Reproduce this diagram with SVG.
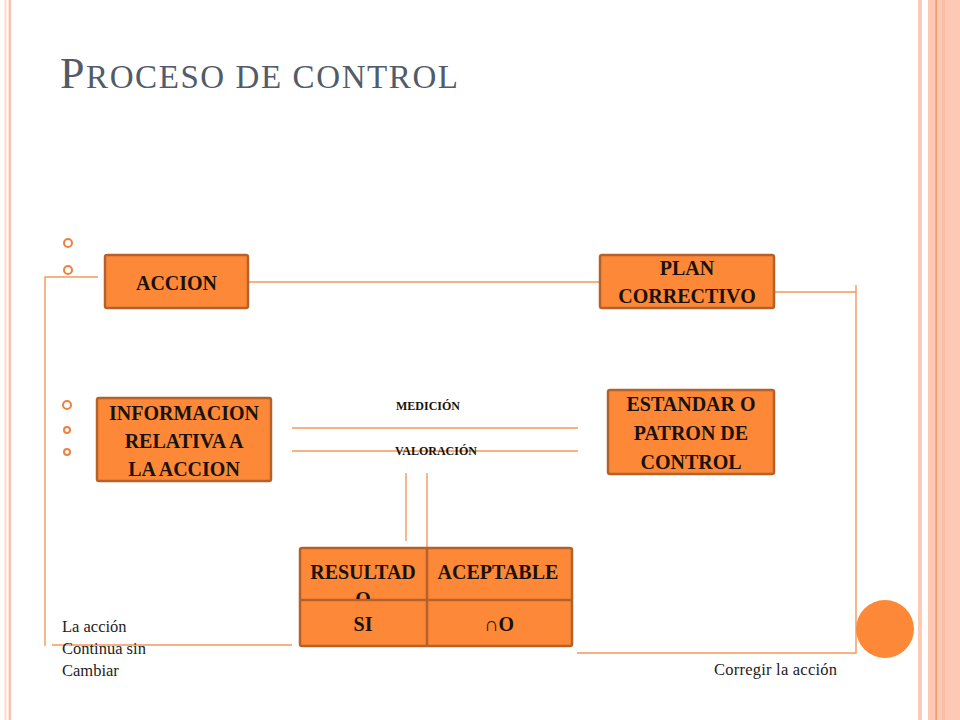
<svg xmlns="http://www.w3.org/2000/svg" width="960" height="720" viewBox="0 0 960 720">
<defs>
<style>
.box{fill:#fd8838;stroke:#b5622a;stroke-width:2.5}
.bt{font-family:"Liberation Serif","DejaVu Serif",serif;font-weight:bold;font-size:20px;fill:#1a1208;text-anchor:middle}
.sm{font-family:"Liberation Serif","DejaVu Serif",serif;font-weight:bold;font-size:12px;fill:#1a1208;text-anchor:middle}
.ln{stroke:#f3985c;stroke-width:1.4;fill:none}
.bul{fill:none;stroke:#ee8142;stroke-width:2}
.body{font-family:"Liberation Serif","DejaVu Serif",serif;font-size:16.5px;fill:#222}
</style>
<clipPath id="cellclip"><rect x="300" y="548" width="127" height="51"/></clipPath>
</defs>
<rect width="960" height="720" fill="#fff"/>
<!-- borders -->
<rect x="4.5" y="0" width="2" height="720" fill="#fddacb"/>
<rect x="8.5" y="0" width="2.5" height="720" fill="#fbc3ad"/>
<rect x="918" y="0" width="4" height="720" fill="#fbc9b5"/>
<rect x="928" y="0" width="32" height="720" fill="#fdc9b5"/>
<rect x="935.5" y="0" width="1.2" height="720" fill="#f08a55"/>
<rect x="942" y="0" width="3" height="720" fill="#fbbfa8"/>
<!-- title -->
<text x="60" y="88" font-family="'Liberation Serif','DejaVu Serif',serif" fill="#515b69" textLength="398" lengthAdjust="spacing"><tspan font-size="44">P</tspan><tspan font-size="33">ROCESO DE CONTROL</tspan></text>
<!-- bullets -->
<g id="bullets">
<circle class="bul" cx="68" cy="243" r="4"/>
<circle class="bul" cx="68" cy="270" r="4"/>
<circle class="bul" cx="67" cy="405" r="4"/>
<circle class="bul" cx="67" cy="430" r="3" stroke-width="1.6"/>
<circle class="bul" cx="67" cy="452" r="3" stroke-width="1.6"/>
</g>
<!-- connectors -->
<g id="connectors">
<polyline class="ln" points="98,277 45,277 45,646"/>
<line class="ln" x1="52" y1="645" x2="292" y2="645"/>
<line class="ln" x1="249" y1="282" x2="599" y2="282"/>
<line class="ln" x1="775" y1="292" x2="856" y2="292"/>
<polyline class="ln" points="856,285 856,653 577,653"/>
<line class="ln" x1="292" y1="428" x2="578" y2="428"/>
<line class="ln" x1="292" y1="451" x2="578" y2="451"/>
<line class="ln" x1="406" y1="473" x2="406" y2="541"/>
<line class="ln" x1="427" y1="473" x2="427" y2="548"/>
</g>
<!-- nodes -->
<g id="accion">
<rect class="box" x="105" y="255" width="143" height="53" rx="2"/>
<text class="bt" x="176.5" y="290">ACCION</text>
</g>
<g id="plan">
<rect class="box" x="600" y="255" width="174" height="53" rx="2"/>
<text class="bt" x="687" y="275">PLAN</text>
<text class="bt" x="687" y="303">CORRECTIVO</text>
</g>
<g id="informacion">
<rect class="box" x="97" y="398" width="174" height="83" rx="2"/>
<text class="bt" x="184" y="420">INFORMACION</text>
<text class="bt" x="184" y="448">RELATIVA A</text>
<text class="bt" x="184" y="476">LA ACCION</text>
</g>
<g id="estandar">
<rect class="box" x="608" y="390" width="166" height="84" rx="2"/>
<text class="bt" x="691" y="411">ESTANDAR O</text>
<text class="bt" x="691" y="440">PATRON DE</text>
<text class="bt" x="691" y="469">CONTROL</text>
</g>
<g id="labels">
<text class="sm" x="428" y="410">MEDICIÓN</text>
<text class="sm" x="436" y="455" font-size="12.5">VALORACIÓN</text>
</g>
<g id="tabla">
<rect class="box" x="300" y="548" width="272" height="98" rx="2"/>
<line x1="300" y1="600" x2="572" y2="600" stroke="#b5622a" stroke-width="2.5"/>
<line x1="427" y1="548" x2="427" y2="646" stroke="#b5622a" stroke-width="2.5"/>
<text class="bt" x="363" y="579" font-size="19">RESULTAD</text>
<text class="bt" x="363" y="606" font-size="12" clip-path="url(#cellclip)">O</text>
<text class="bt" x="498" y="579" font-size="19.5">ACEPTABLE</text>
<text class="bt" x="363" y="631" font-size="21">SI</text>
<text class="bt" x="499" y="631" font-size="21">∩O</text>
</g>
<!-- bottom texts -->
<g id="texts">
<text class="body" x="62" y="632">La acción</text>
<text class="body" x="62" y="654">Continua sin</text>
<text class="body" x="62" y="676">Cambiar</text>
<text class="body" x="714" y="675" textLength="123" lengthAdjust="spacing">Corregir la acción</text>
</g>
<circle cx="885" cy="629" r="29" fill="#fd8838"/>
</svg>
